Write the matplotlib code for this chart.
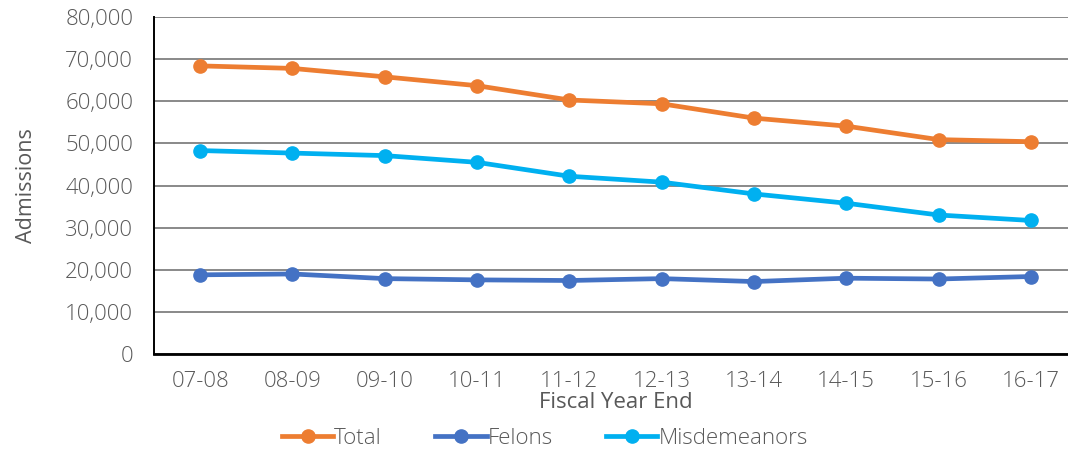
import matplotlib
matplotlib.use("Agg")
import matplotlib.pyplot as plt
from matplotlib.ticker import FuncFormatter

years = ['07-08', '08-09', '09-10', '10-11', '11-12', '12-13', '13-14', '14-15', '15-16', '16-17']
total = [68400, 67800, 65800, 63700, 60300, 59400, 56000, 54100, 50900, 50400]
felons = [18800, 19000, 17900, 17600, 17450, 17900, 17200, 18000, 17800, 18400]
misdemeanors = [48300, 47700, 47100, 45500, 42200, 40800, 38000, 35800, 33000, 31700]

plt.rcParams['font.family'] = ['Open Sans', 'DejaVu Sans']
plt.rcParams['font.weight'] = 'light'
grey = '#595959'
fs = 16

fig = plt.figure(figsize=(10.68, 4.5), dpi=100)
ax = fig.add_axes([0.1442, 0.2133, 0.8642, 0.7489])

x = list(range(len(years)))
ax.plot(x, total, color='#ED7D31', lw=3.4, marker='o', ms=9.5, label='Total', zorder=3)
ax.plot(x, felons, color='#4472C4', lw=3.4, marker='o', ms=9.5, label='Felons', zorder=3)
ax.plot(x, misdemeanors, color='#00B0F0', lw=3.4, marker='o', ms=9.5, label='Misdemeanors', zorder=3)

ax.set_xlim(-0.5, 9.5)
ax.set_ylim(0, 80000)
ax.set_yticks(range(0, 80001, 10000))
ax.yaxis.set_major_formatter(FuncFormatter(lambda v, p: '{:,.0f}'.format(v)))
ax.set_xticks(x)
ax.set_xticklabels(years)
ax.tick_params(length=0, labelsize=fs, labelcolor=grey)
ax.tick_params(axis='y', pad=15)
ax.tick_params(axis='x', pad=12)
ax.grid(axis='y', color='#808080', lw=1.3)
ax.set_axisbelow(True)

for s in ['top', 'right']:
    ax.spines[s].set_visible(False)
ax.spines['left'].set_linewidth(1.4)
ax.spines['bottom'].set_linewidth(2)
ax.spines['left'].set_color('black')
ax.spines['bottom'].set_color('black')

ax.set_xlabel('Fiscal Year End', fontsize=fs, color=grey, labelpad=0)
ax.set_ylabel('Admissions', fontsize=fs - 0.5, color=grey)
ax.yaxis.set_label_coords(-0.127, 0.5)

fig.legend(loc='center', bbox_to_anchor=(545 / 1068, 1 - 438 / 450), ncol=3, frameon=False,
           fontsize=fs, labelcolor=grey, handlelength=2.3, handletextpad=0.05, columnspacing=2.4,
           borderaxespad=0)

fig.savefig('out.png', dpi=100)
